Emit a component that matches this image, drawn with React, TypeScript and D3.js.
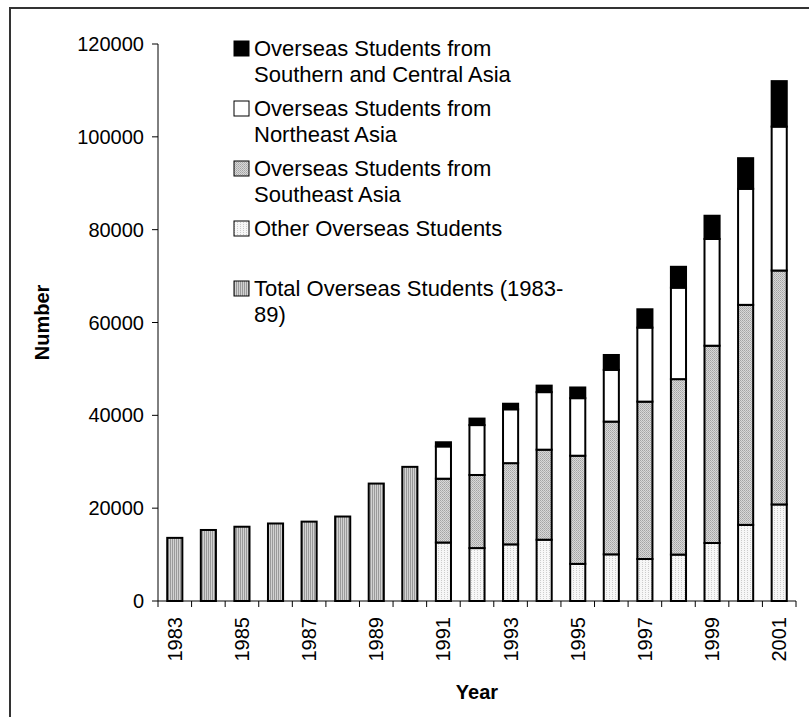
import React from "react";
import * as d3 from "d3";

const years = [
  "1983", "1984", "1985", "1986", "1987", "1988", "1989", "1990", "1991", "1992",
  "1993", "1994", "1995", "1996", "1997", "1998", "1999", "2000", "2001",
];
// total overseas students, only recorded as one figure up to 1990
const totalEarly = [13600, 15300, 16000, 16700, 17100, 18200, 25300, 28900, 0, 0, 0, 0, 0, 0, 0, 0, 0, 0, 0];
const other = [0, 0, 0, 0, 0, 0, 0, 0, 12600, 11400, 12200, 13200, 8000, 10050, 9050, 10000, 12500, 16400, 20800];
const southeast = [0, 0, 0, 0, 0, 0, 0, 0, 13750, 15750, 17500, 19400, 23300, 28600, 33900, 37800, 42500, 47400, 50400];
const northeast = [0, 0, 0, 0, 0, 0, 0, 0, 6950, 10750, 11600, 12400, 12400, 11150, 15950, 19700, 23000, 25000, 31000];
const southCentral = [0, 0, 0, 0, 0, 0, 0, 0, 900, 1400, 1200, 1400, 2300, 3200, 3950, 4500, 5000, 6600, 9800];
const yTicks = [0, 20000, 40000, 60000, 80000, 100000, 120000];

const keys = ["total", "other", "southeast", "northeast", "southCentral"];
const fills: Record<string, string> = {
  total: "url(#patTotal)",
  other: "url(#patOther)",
  southeast: "url(#patSE)",
  northeast: "#ffffff",
  southCentral: "#000000",
};
// legend is listed top to bottom, reverse of stacking
const legendItems = [
  { key: "southCentral", lines: ["Overseas Students from", "Southern and Central Asia"] },
  { key: "northeast", lines: ["Overseas Students from", "Northeast Asia"] },
  { key: "southeast", lines: ["Overseas Students from", "Southeast Asia"] },
  { key: "other", lines: ["Other Overseas Students"] },
  { key: "total", lines: ["Total Overseas Students (1983-", "89)"] },
];

const font = "'Liberation Sans', Arial, sans-serif";

export default function App() {
  const W = 809;
  const H = 717;
  const left = 158;
  const right = 796;
  const top = 44;
  const bottom = 601;

  const rows = years.map((y, i) => ({
    year: y,
    total: totalEarly[i],
    other: other[i],
    southeast: southeast[i],
    northeast: northeast[i],
    southCentral: southCentral[i],
  }));

  const series = d3.stack<any>().keys(keys)(rows);

  const x = d3.scaleBand().domain(years).range([left, right]).paddingInner(0.55).paddingOuter(0.275);
  const xb = d3.scaleBand().domain(years).range([left, right]);
  const y = d3.scaleLinear().domain([0, 120000]).range([bottom, top]);

  return (
    <svg width={W} height={H} style={{ position: "absolute", left: 0, top: 0 }} fontFamily={font}>
      <defs>
        <pattern id="patTotal" width="2" height="2" patternUnits="userSpaceOnUse">
          <rect width="2" height="2" fill="#d2d2d2" />
          <rect width="1" height="2" fill="#9a9a9a" />
        </pattern>
        <pattern id="patSE" width="2" height="2" patternUnits="userSpaceOnUse">
          <rect width="2" height="2" fill="#d8d8d8" />
          <rect x="0" y="0" width="1" height="1" fill="#a4a4a4" />
          <rect x="1" y="1" width="1" height="1" fill="#b4b4b4" />
        </pattern>
        <pattern id="patOther" width="3" height="2" patternUnits="userSpaceOnUse">
          <rect width="3" height="2" fill="#f7f7f7" />
          <rect width="1" height="1" fill="#cccccc" />
        </pattern>
      </defs>

      <rect x={10} y={8} width={W} height={H} fill="#fff" stroke="#333" strokeWidth={2} />

      {/* bars */}
      {series.map((s) => (
        <g key={s.key}>
          {s.map((d, i) =>
            d[1] - d[0] > 0 ? (
              <rect
                key={i}
                x={x(years[i])}
                y={y(d[1])}
                width={x.bandwidth()}
                height={y(d[0]) - y(d[1])}
                fill={fills[s.key]}
                stroke="#000"
                strokeWidth={2}
              />
            ) : null
          )}
        </g>
      ))}

      {/* y axis */}
      <line x1={left} x2={left} y1={top} y2={bottom} stroke="#000" />
      {yTicks.map((t) => (
        <g key={t} transform={`translate(0,${y(t)})`}>
          <line x1={left - 6} x2={left} stroke="#000" />
          <text x={left - 14} dy="0.35em" textAnchor="end" fontSize={20}>
            {t}
          </text>
        </g>
      ))}

      {/* x axis */}
      <line x1={left} x2={right} y1={bottom} y2={bottom} stroke="#000" />
      {years.map((yr) => (
        <line key={yr} x1={xb(yr)} x2={xb(yr)} y1={bottom} y2={bottom + 6} stroke="#000" />
      ))}
      <line x1={right} x2={right} y1={bottom} y2={bottom + 6} stroke="#000" />
      {years.map((yr, i) =>
        i % 2 === 0 ? (
          <text
            key={yr}
            transform={`translate(${(xb(yr) as number) + xb.bandwidth() / 2},${bottom + 16}) rotate(-90)`}
            dy="0.35em"
            textAnchor="end"
            fontSize={20}
          >
            {yr}
          </text>
        ) : null
      )}

      <text x={(left + right) / 2} y={699} textAnchor="middle" fontSize={20} fontWeight="bold">
        Year
      </text>
      <text
        transform={`translate(42,${(top + bottom) / 2}) rotate(-90)`}
        textAnchor="middle"
        dy="0.35em"
        fontSize={20}
        fontWeight="bold"
      >
        Number
      </text>

      {/* legend */}
      {legendItems.map((it, i) => (
        <g key={it.key} transform={`translate(234,${48 + i * 60})`}>
          <rect x={0} y={-7} width={15} height={15} fill={fills[it.key]} stroke="#000" strokeWidth={1} />
          {it.lines.map((ln, j) => (
            <text key={j} x={20} y={j * 26} dy="0.35em" fontSize={22}>
              {ln}
            </text>
          ))}
        </g>
      ))}
    </svg>
  );
}
